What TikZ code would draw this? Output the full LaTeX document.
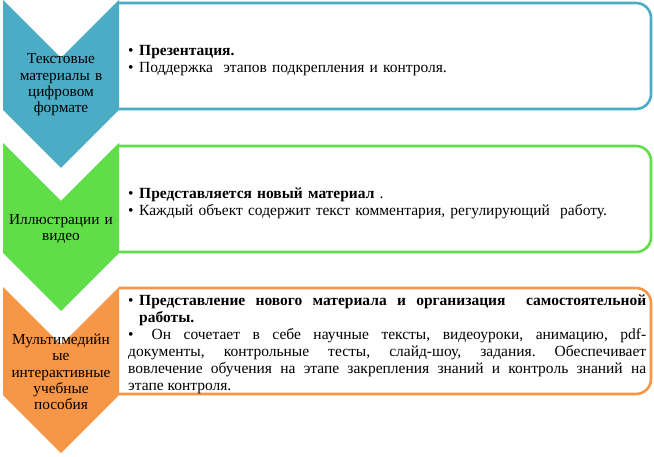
\documentclass[tikz,border=0pt]{standalone}
\usepackage{fontspec}
\setmainfont{Liberation Serif}
\frenchspacing
\definecolor{cblue}{RGB}{75,172,198}
\definecolor{cgreen}{RGB}{95,222,72}
\definecolor{corange}{RGB}{247,150,70}
\newcommand\bitem[1]{\par\hangindent=11bp\hangafter=1\noindent\makebox[11bp][l]{\textbullet}#1}
\tikzset{
  chev/.style={fill=#1, draw=none},
  panel/.style={draw=#1, line width=2.6bp, fill=white, rounded corners=15bp},
  chevtext/.style={font=\fontsize{15.3bp}{16.3bp}\selectfont, align=center, text width=116bp, inner sep=0pt},
  paneltext/.style={font=\fontsize{15.5bp}{16.8bp}\selectfont\frenchspacing, anchor=west, inner sep=0pt, text width=#1}
}
\begin{document}
\begin{tikzpicture}[x=1bp,y=-1bp]
\useasboundingbox (0,0) rectangle (654,457);
% panels
\filldraw[panel=cblue] (119,3) -- (651,3) -- (651,109) -- (119,109);
\filldraw[panel=cgreen] (119,146) -- (651,146) -- (651,252) -- (119,252);
\filldraw[panel=corange] (119,288) -- (651,288) -- (651,394) -- (119,394);
% chevrons
\path[chev=cblue] (3,0) -- (61,58) -- (119,0) -- (119,110) -- (61,168) -- (3,110) -- cycle;
\path[chev=cgreen] (3,143) -- (61,201) -- (119,143) -- (119,253) -- (61,311) -- (3,253) -- cycle;
\path[chev=corange] (3,287) -- (61,345) -- (119,287) -- (119,395) -- (61,453) -- (3,395) -- cycle;
% chevron texts
\node[chevtext] (c1) at (61,85) {Текстовые\\материалы в\\цифровом\\формате};
\node[chevtext] (c2) at (61,229) {Иллюстрации и\\видео};
\node[chevtext] (c3) at (61,372) {Мультимедийн\\ые\\интерактивные\\учебные\\пособия};
% panel texts
\node[paneltext=515bp, align=left] (t1) at (128,57) {%
\bitem{\textbf{Презентация.}}
\bitem{Поддержка\ \ этапов подкрепления и контроля.}};
\node[paneltext=515bp, align=left] (t2) at (128,200) {%
\bitem{\textbf{Представляется новый материал} .}
\bitem{Каждый объект содержит текст комментария, регулирующий\ \ работу.}};
\node[paneltext=518bp, align=justify] (t3) at (128,341) {%
\bitem{\textbf{Представление нового материала и организация\ \ самостоятельной\linebreak работы.}}\par\vspace{1bp}
\bitem{\ Он сочетает в себе научные тексты, видеоуроки, анимацию, pdf-\linebreak документы, контрольные тесты, слайд-шоу, задания. Обеспечивает\linebreak вовлечение обучения на этапе закрепления знаний и контроль знаний на\linebreak этапе контроля.}};
\end{tikzpicture}
\end{document}
